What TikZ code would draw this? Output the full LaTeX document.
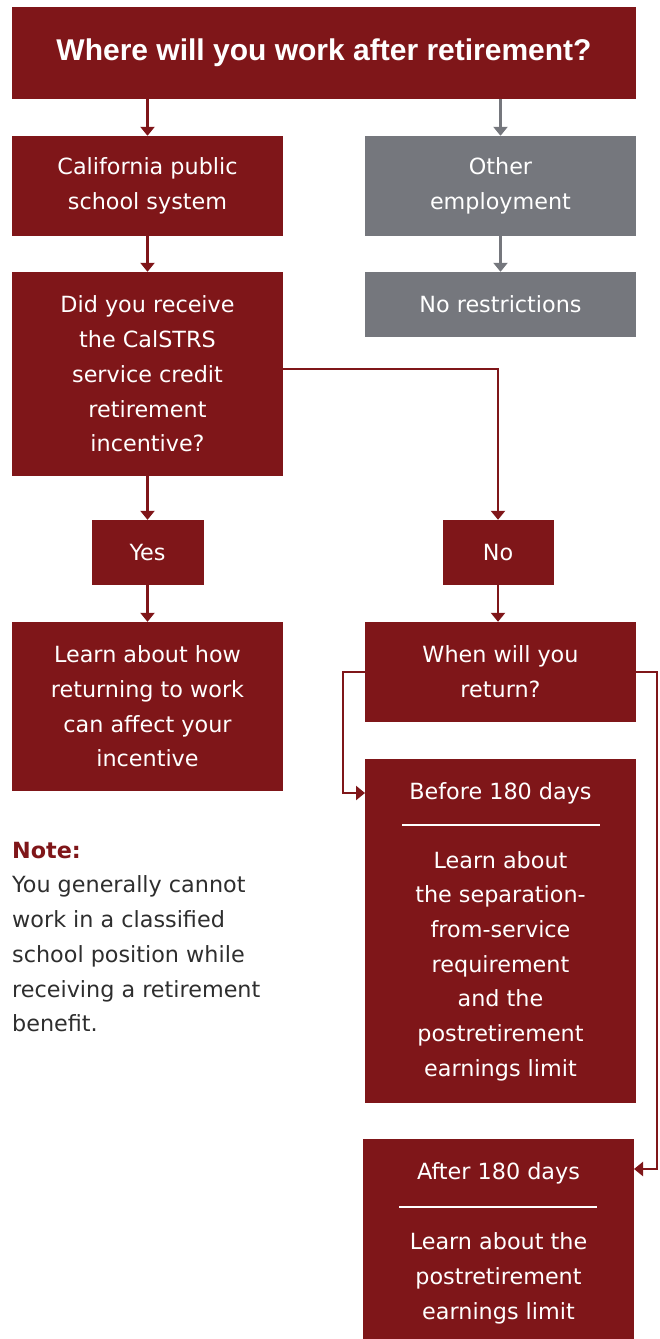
\documentclass[tikz,border=0pt]{standalone}
\usepackage{fontspec}
\setmainfont{DejaVu Sans}
\newfontfamily\titlefont{Liberation Sans}
\usetikzlibrary{arrows.meta}
\definecolor{crimson}{HTML}{7F1619}
\definecolor{slate}{HTML}{75777D}
\definecolor{notegray}{HTML}{2E2E2E}
\newcommand\bodyfont{\fontsize{22.3}{34.7}\selectfont}
\tikzset{
  panel/.style={fill=crimson, text=white, minimum width=271pt, inner sep=0pt, align=center, font=\bodyfont},
  greypanel/.style={panel, fill=slate},
  boxtext/.style={text=white, inner sep=0pt, align=center, font=\bodyfont},
  arr/.style={draw=crimson, line width=2.6pt, -{Triangle[width=14pt,length=9pt]}},
  greyarr/.style={arr, draw=slate, fill=slate},
  divider/.style={draw=white, line width=2.5pt},
}
\begin{document}
\begin{tikzpicture}[x=1pt,y=-1pt]
\useasboundingbox (0,0) rectangle (659,1339);
% title
\node[panel, minimum width=624pt, minimum height=92pt,
      font=\titlefont\bfseries\fontsize{30}{35}\selectfont] (title) at (324,53) {Where will you work after retirement?};
% left column
\node[panel, minimum height=100pt] (cps) at (147.5,186) {California public\\school system};
\node[panel, minimum height=204pt] (did) at (147.5,374) {Did you receive\\the CalSTRS\\service credit\\retirement\\incentive?};
\node[panel, minimum width=112pt, minimum height=65pt] (yes) at (147.5,552.5) {Yes};
\node[panel, minimum height=169pt] (learn) at (147.5,706.5) {Learn about how\\returning to work\\can affect your\\incentive};
% right column
\node[greypanel, minimum height=100pt] (other) at (500.5,186) {Other\\employment};
\node[greypanel, minimum height=65pt] (norestr) at (500.5,304.5) {No restrictions};
\node[panel, minimum width=111pt, minimum height=65pt] (no) at (498,552.5) {No};
\node[panel, minimum height=100pt] (when) at (500.5,672) {When will you\\return?};
\node[panel, minimum height=344pt] (before) at (500.5,931) {};
\node[boxtext] (bhead) at (500.5,793) {Before 180 days};
\draw[divider] (402,825) -- (600,825);
\node[boxtext] (bbody) at (500.5,966) {Learn about\\the separation-\\from-service\\requirement\\and the\\postretirement\\earnings limit};
\node[panel, minimum height=200pt] (after) at (498.5,1239) {};
\node[boxtext] (ahead) at (498.5,1173) {After 180 days};
\draw[divider] (399,1207) -- (597,1207);
\node[boxtext] (abody) at (498.5,1278.5) {Learn about the\\postretirement\\earnings limit};
% note
\node[anchor=west, inner sep=0pt, text=crimson, font=\bodyfont\bfseries] (notehead) at (12,851) {Note:};
\node[anchor=west, inner sep=0pt, align=left, text=notegray, font=\bodyfont] (notebody) at (12,954) {You generally cannot\\work in a classified\\school position while\\receiving a retirement\\benefit.};
% connectors
\draw[arr] (title.south -| cps.north) -- (cps.north);
\draw[greyarr] (title.south -| other.north) -- (other.north);
\draw[greyarr] (other) -- (norestr);
\draw[arr] (cps) -- (did);
\draw[arr] (did) -- (yes);
\draw[arr] (yes) -- (learn);
\coordinate (didout) at (283,369);
\draw[arr] (didout) -| (no.north);
\draw[arr] (no.south) -- (no.south |- when.north);
\coordinate (wl) at (365,672);
\coordinate (lbend) at (343,672);
\coordinate (bl) at (365,793);
\draw[arr] (wl) -- (lbend) |- (bl);
\coordinate (wr) at (636,672);
\coordinate (rbend) at (657,672);
\coordinate (ar) at (634,1169);
\draw[arr] (wr) -- (rbend) |- (ar);
\end{tikzpicture}
\end{document}
